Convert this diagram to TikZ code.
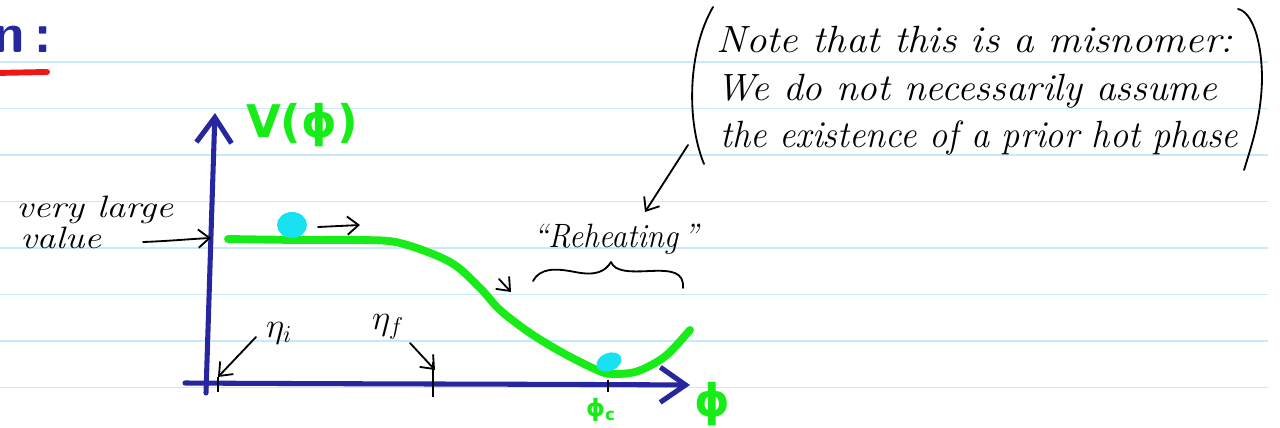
\documentclass[tikz,border=0pt]{standalone}
\usepackage{fontspec}
\usepackage{graphicx}
\newfontfamily\gfont{DejaVu Sans}
\usetikzlibrary{arrows.meta}
\definecolor{rulec}{RGB}{198,234,252}
\definecolor{navy}{RGB}{38,38,158}
\definecolor{pgreen}{RGB}{24,236,24}
\definecolor{pcyan}{RGB}{24,226,242}
\definecolor{pred}{RGB}{236,24,24}
\tikzset{
  axisline/.style={draw=navy,line width=3.6pt,line cap=round,
    -{Straight Barb[length=18pt,width=25pt,line width=3.6pt]}},
  pen/.style={draw=black,line width=1.3pt,line cap=round,line join=round},
  penarrow/.style={pen,-{Straight Barb[length=8pt,width=13pt,line width=1.3pt]}},
  hand/.style={font=\itshape\fontsize{27}{30}\selectfont, inner sep=0pt, anchor=base west},
  smallhand/.style={font=\itshape\fontsize{22}{24}\selectfont, inner sep=0pt, anchor=base west},
  greenlab/.style={text=pgreen, inner sep=0pt},
  tick/.style={draw=black,line width=1pt},
  ruled/.style={draw=rulec,line width=1.4pt},
}
\begin{document}
\begin{tikzpicture}[x=0.025cm,y=-0.025cm]
\useasboundingbox (0,0) rectangle (1280,427);
% ruled paper lines
\foreach \yy in {62,108.5,155,201.5,248,294.5,341,387.5}
  \draw[ruled] (0,\yy) -- (1268,\yy);
% title fragment
\node[text=navy, font=\sffamily\bfseries\fontsize{40}{40}\selectfont, inner sep=0pt, anchor=base east] (title) at (52,53) {n\,:};
\draw[pred, line width=4.2pt, line cap=round] (-5,73) -- (47,72);
% axes
\coordinate (yb) at (206,393);
\coordinate (yt) at (215,113);
\coordinate (xl) at (185,383);
\coordinate (xr) at (690,385);
\draw[axisline] (yb) .. controls (209,300) and (212,200) .. (yt);
\draw[axisline] (xl) .. controls (350,384) and (520,384) .. (xr);
% potential curve
\draw[pgreen, line width=5.6pt, line cap=round, line join=round]
  plot[smooth, tension=0.55] coordinates {(228,239) (300,240) (360,240) (400,243) (450,262) (480,288) (500,310) (530,333) (563,353) (597,370) (612,374) (635,372) (655,363) (670,352) (690,330)};
% balls
\fill[pcyan] (292,225) ellipse [x radius=15, y radius=13];
\fill[pcyan, rotate around={22:(609,362)}] (609,362) ellipse [x radius=13, y radius=9];
% labels
\node[greenlab, font=\gfont\bfseries\fontsize{32}{32}\selectfont] (vlab) at (302,125) {V(ϕ)};
\node[greenlab, font=\gfont\bfseries\fontsize{17}{17}\selectfont] (phic) at (601,410) {ϕ\textsubscript{c}};
\node[greenlab, font=\gfont\bfseries\fontsize{32}{32}\selectfont] (phi) at (712,404) {ϕ};
% ticks
\coordinate (ti) at (218,377);
\coordinate (tf) at (435,370);
\draw[tick] (218,377) -- (218,392);
\draw[tick] (433,362) -- (433,397);
\draw[tick] (608,380) -- (608,392);
% eta labels
\node[font=\fontsize{24}{24}\selectfont, inner sep=0pt] (etai) at (279,333) {$\eta_i$};
\node[font=\fontsize{24}{24}\selectfont, inner sep=0pt] (etaf) at (388,327) {$\eta_f$};
\coordinate (etaiS) at (256,337);
\coordinate (etafS) at (410,343);
\draw[penarrow] (etaiS) -- (ti);
\draw[penarrow] (etafS) -- (tf);
% very large value
\node[smallhand] (vl1) at (16,217) {\scalebox{1.22}[1]{very large}};
\node[smallhand] (vl2) at (20,248) {\scalebox{1.2}[1]{value}};
\coordinate (vlS) at (143,242);
\coordinate (vlE) at (211,238);
\draw[penarrow] (vlS) .. controls (170,241) and (190,239) .. (vlE);
% motion arrows
\coordinate (m1S) at (318,227);
\coordinate (m1E) at (360,225);
\draw[penarrow] (m1S) -- (m1E);
\coordinate (m2S) at (499,279);
\coordinate (m2E) at (511,292);
\draw[penarrow] (m2S) -- (m2E);
% Reheating
\node[font=\itshape\fontsize{24}{24}\selectfont, inner sep=0pt, anchor=base west] (reh) at (533,247) {\scalebox{0.93}[1]{``Reheating\,''}};
\draw[pen] (533,281) .. controls (540,268) and (555,268) .. (575,272)
  .. controls (595,276) and (605,272) .. (611,262)
  .. controls (615,272) and (630,272) .. (650,271)
  .. controls (672,270) and (684,272) .. (683,288);
\coordinate (rA) at (688,145);
\coordinate (rB) at (645,212);
\draw[penarrow] (rA) -- (rB);
% note
\draw[pen] (713,7) .. controls (688,50) and (686,120) .. (704,164);
\draw[pen] (1238,9) .. controls (1252,12) and (1262,40) .. (1262,80)
  .. controls (1261,120) and (1250,150) .. (1244,170);
\node[hand] (n1) at (716,53) {\scalebox{1.077}[1]{Note that this is a misnomer:}};
\node[hand] (n2) at (716,100) {\scalebox{1.035}[1]{We do not necessarily assume}};
\node[hand] (n3) at (720,147) {\scalebox{0.957}[1]{the existence of a prior hot phase}};
\end{tikzpicture}
\end{document}
